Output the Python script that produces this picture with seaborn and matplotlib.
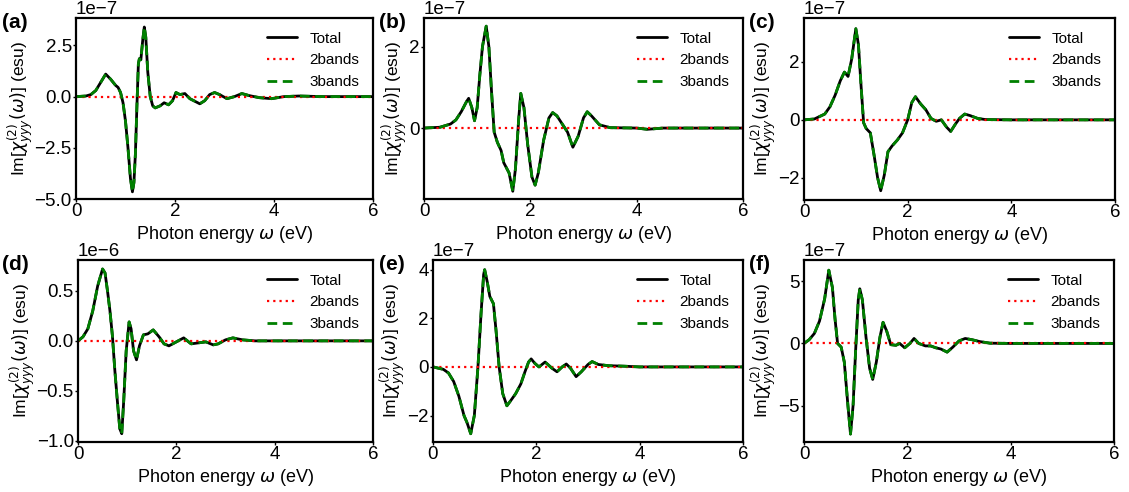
import numpy as np
import pandas as pd
import matplotlib
matplotlib.use('Agg')
import matplotlib.pyplot as plt
import seaborn as sns

# valores (x em eV, y em unidades do offset de cada painel)
x_a = [0, 0.2, 0.3, 0.4, 0.5, 0.6, 0.7, 0.8, 0.85, 0.9, 0.95, 1.0, 1.05, 1.1, 1.14, 1.17, 1.2, 1.23, 1.26, 1.28,
       1.31, 1.35, 1.38, 1.41, 1.45, 1.5, 1.55, 1.6, 1.7, 1.78, 1.87, 1.95, 2.02, 2.1, 2.2, 2.3, 2.5, 2.6, 2.7, 2.8,
       2.9, 3.05, 3.2, 3.35, 3.5, 3.7, 3.95, 4.2, 4.5, 5.0, 6.0]
y_a = [0, 0.03, 0.1, 0.3, 0.7, 1.1, 0.85, 0.55, 0.45, 0.2, -0.3, -1.2, -2.5, -4.0, -4.65, -4.2, -2.8, -0.5, 1.6, 1.85,
       1.8, 2.8, 3.4, 2.9, 1.2, 0.0, -0.45, -0.55, -0.45, -0.3, -0.4, -0.2, 0.2, 0.1, 0.15, -0.1, -0.35, -0.2, 0.1, 0.2,
       0.1, -0.1, 0.0, 0.15, 0.05, -0.05, -0.1, 0.0, 0.03, 0.0, 0.0]

x_b = [0, 0.3, 0.5, 0.6, 0.7, 0.8, 0.84, 0.9, 0.95, 1.0, 1.05, 1.1, 1.17, 1.22, 1.27, 1.32, 1.38, 1.45, 1.5, 1.6,
       1.67, 1.72, 1.78, 1.82, 1.88, 1.95, 2.03, 2.09, 2.15, 2.25, 2.35, 2.42, 2.5, 2.6, 2.7, 2.8, 2.9, 3.0, 3.07,
       3.15, 3.3, 3.5, 4.0, 4.2, 4.5, 6.0]
y_b = [0, 0.02, 0.1, 0.2, 0.4, 0.65, 0.73, 0.5, 0.18, 0.5, 1.3, 2.0, 2.5, 2.0, 0.9, -0.1, -0.35, -0.55, -0.85, -1.1,
       -1.55, -1.0, 0.2, 0.85, 0.5, -0.4, -1.2, -1.4, -1.1, -0.3, 0.25, 0.38, 0.3, 0.1, -0.1, -0.47, -0.2, 0.25, 0.4,
       0.3, 0.08, 0.01, 0.0, -0.03, 0.0, 0.0]

x_c = [0, 0.2, 0.4, 0.5, 0.6, 0.7, 0.78, 0.85, 0.92, 1.0, 1.05, 1.1, 1.15, 1.2, 1.28, 1.35, 1.42, 1.48, 1.55, 1.62,
       1.7, 1.8, 1.9, 2.0, 2.08, 2.15, 2.25, 2.35, 2.45, 2.55, 2.65, 2.75, 2.83, 2.92, 3.0, 3.1, 3.2, 3.35, 3.5, 4.0,
       6.0]
y_c = [0, 0.03, 0.2, 0.45, 0.85, 1.35, 1.65, 1.5, 2.1, 3.15, 2.6, 1.2, -0.1, -0.3, -0.45, -1.2, -2.0, -2.45, -1.9,
       -1.1, -0.9, -0.7, -0.45, 0.0, 0.6, 0.8, 0.55, 0.35, 0.05, -0.05, 0.0, -0.25, -0.4, -0.15, 0.05, 0.2, 0.15, 0.05,
       0.01, 0.0, 0.0]

x_d = [0, 0.1, 0.2, 0.3, 0.4, 0.5, 0.55, 0.6, 0.65, 0.7, 0.75, 0.8, 0.85, 0.89, 0.93, 0.98, 1.04, 1.08, 1.13, 1.19,
       1.25, 1.33, 1.42, 1.53, 1.65, 1.75, 1.85, 2.0, 2.15, 2.3, 2.45, 2.6, 2.75, 2.85, 3.0, 3.15, 3.35, 3.6, 6.0]
y_d = [0, 0.04, 0.12, 0.3, 0.55, 0.72, 0.68, 0.5, 0.3, 0.05, -0.3, -0.6, -0.88, -0.93, -0.6, -0.1, 0.19, 0.12, -0.1,
       -0.19, -0.05, 0.06, 0.07, 0.11, 0.04, -0.03, -0.05, -0.01, 0.03, -0.03, -0.02, -0.01, -0.04, -0.03, 0.01, 0.03,
       0.01, 0.0, 0.0]

x_e = [0, 0.2, 0.3, 0.4, 0.5, 0.6, 0.66, 0.73, 0.8, 0.87, 0.93, 0.98, 1.0, 1.05, 1.1, 1.17, 1.22, 1.28, 1.35, 1.43,
       1.5, 1.6, 1.7, 1.78, 1.85, 1.9, 1.97, 2.05, 2.17, 2.3, 2.4, 2.5, 2.58, 2.66, 2.77, 2.87, 3.0, 3.08, 3.2, 3.4,
       3.7, 4.0, 6.0]
y_e = [0, -0.1, -0.25, -0.6, -1.2, -2.0, -2.3, -2.75, -2.0, 0.0, 2.2, 3.8, 4.0, 3.5, 2.9, 2.6, 1.5, 0.0, -1.1, -1.6,
       -1.4, -1.1, -0.7, -0.2, 0.2, 0.33, 0.15, 0.0, 0.2, -0.05, -0.2, 0.0, 0.12, -0.05, -0.4, -0.2, 0.1, 0.22, 0.1,
       0.05, 0.03, 0.0, 0.0]

x_f = [0, 0.1, 0.2, 0.3, 0.4, 0.48, 0.55, 0.6, 0.65, 0.72, 0.78, 0.85, 0.9, 0.95, 1.0, 1.05, 1.08, 1.13, 1.2, 1.27,
       1.33, 1.4, 1.47, 1.53, 1.6, 1.68, 1.78, 1.85, 1.95, 2.05, 2.13, 2.22, 2.35, 2.45, 2.55, 2.65, 2.77, 2.88, 3.0,
       3.12, 3.25, 3.4, 3.6, 4.0, 6.0]
y_f = [0, 0.3, 0.8, 1.8, 3.6, 5.9, 4.5, 2.0, 0.0, -0.3, -1.5, -5.0, -7.3, -5.0, -0.5, 3.5, 4.4, 3.5, 0.5, -2.0,
       -2.9, -1.5, 0.5, 1.7, 1.0, -0.1, -0.15, 0.0, -0.35, 0.0, 0.4, 0.0, -0.2, -0.2, -0.35, -0.45, -0.7, -0.3, 0.2,
       0.4, 0.3, 0.15, 0.02, 0.0, 0.0]

labels = ['(a)', '(b)', '(c)', '(d)', '(e)', '(f)']
scales = [1e-7, 1e-7, 1e-7, 1e-6, 1e-7, 1e-7]
ylims = [(-5.0, 3.84), (-1.74, 2.70), (-2.77, 3.52), (-1.013, 0.81), (-3.09, 4.40), (-7.94, 6.72)]
yticks = [[-5.0, -2.5, 0.0, 2.5], [0, 2], [-2, 0, 2], [-1.0, -0.5, 0.0, 0.5], [-2, 0, 2, 4], [-5, 0, 5]]
xs = [x_a, x_b, x_c, x_d, x_e, x_f]
ys = [y_a, y_b, y_c, y_d, y_e, y_f]

sns.set_theme(style='white')
plt.rcParams['font.family'] = ['Liberation Sans', 'DejaVu Sans']
plt.rcParams['mathtext.fontset'] = 'dejavusans'
for k in ['text.color', 'axes.labelcolor', 'xtick.color', 'ytick.color']:
    plt.rcParams[k] = 'black'

W, H = 1129, 492
fig = plt.figure(figsize=(W / 100, H / 100), dpi=100)

# caixas dos eixos em pixels: esquerda, direita, topo, base
caixas = [(76, 373, 18, 199), (424, 743, 18, 199), (804, 1115, 18, 200),
          (78, 373, 260, 442), (433, 743, 260, 442), (804, 1114, 260, 442)]
pos_label = [(2, 23), (379, 23), (749, 23), (2, 264), (379, 264), (749, 264)]

for i in range(6):
    l, r, t, b = caixas[i]
    ax = fig.add_axes([l / W, 1 - b / H, (r - l) / W, (b - t) / H])
    df = pd.DataFrame({'x': xs[i], 'y': np.array(ys[i]) * scales[i]})
    zero = pd.DataFrame({'x': [0, 6], 'y': [0.0, 0.0]})
    sns.lineplot(data=df, x='x', y='y', ax=ax, color='black', lw=2, label='Total')
    sns.lineplot(data=zero, x='x', y='y', ax=ax, color='red', lw=1.6, ls=(0, (1, 1.8)), label='2bands')
    sns.lineplot(data=df, x='x', y='y', ax=ax, color='green', lw=2, ls=(0, (3.5, 2)), label='3bands')
    ax.set_xlim(0, 6)
    ax.set_ylim(ylims[i][0] * scales[i], ylims[i][1] * scales[i])
    ax.set_xticks([0, 2, 4, 6])
    ax.set_yticks(np.array(yticks[i]) * scales[i])
    ax.ticklabel_format(axis='y', style='sci', scilimits=(0, 0))
    ax.yaxis.get_offset_text().set_fontsize(13.5)
    ax.tick_params(labelsize=13.5, length=2, width=1, pad=1, bottom=True, left=True, color='black')
    for s in ax.spines.values():
        s.set_linewidth(1.6)
        s.set_color('black')
    ax.set_xlabel(r'Photon energy $\omega$ (eV)', fontsize=13, labelpad=2.5)
    ax.set_ylabel(r'Im[$\chi^{(2)}_{yyy}(\omega)$] (esu)', fontsize=12.5, labelpad=0)
    ax.legend(loc='upper right', frameon=False, fontsize=11, handlelength=2.0)
    fig.text(pos_label[i][0] / W, 1 - pos_label[i][1] / H, labels[i], fontsize=15,
             fontweight='bold', va='center', ha='left')

fig.savefig('out.png', dpi=100)
